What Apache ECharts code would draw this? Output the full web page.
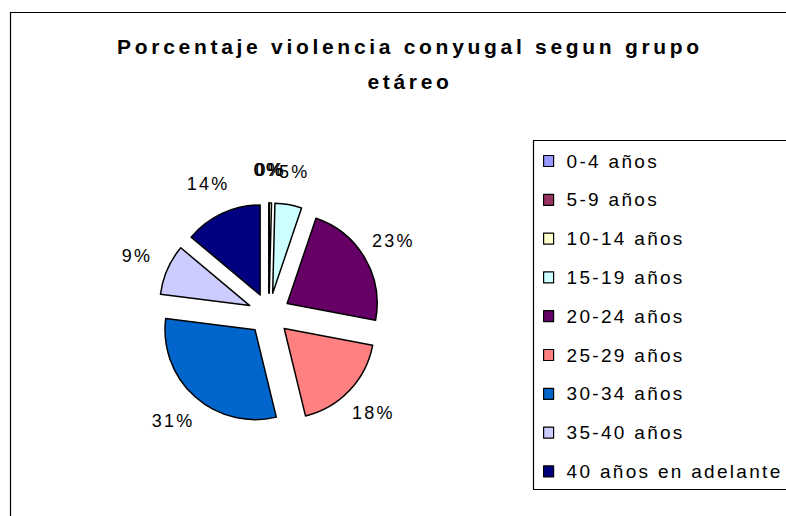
<!DOCTYPE html>
<html lang="es">
<head>
    <meta charset="UTF-8">
    <title>Porcentaje violencia conyugal</title>
    <style>
        html,body{
            padding: 0;
            margin: 0;
            width: 100%;
            height: 100%;
            background: #fff;
        }
        .chart{
            width: 786px;
            height: 516px;
        }
        /* el original (Excel) tiene las letras mas separadas */
        .chart svg text{
            letter-spacing: 2.3px;
        }
        .chart svg text[style*="bold"]{
            letter-spacing: 3.7px;
        }
    </style>
    <script src="https://cdn.jsdelivr.net/npm/echarts@6/dist/echarts.min.js"></script>
</head>
<body>
<div class="chart"></div>
<script>
    // grupos de edad y porcentaje de cada uno
    let grupos = ['0-4 años', '5-9 años', '10-14 años', '15-19 años', '20-24 años',
        '25-29 años', '30-34 años', '35-40 años', '40 años en adelante'];
    let valores = [0, 0, 0.4, 4.8, 22.8, 18.2, 30.8, 9.1, 13.9];
    let colores = ['#9999FF', '#993366', '#FFFFCC', '#CCFFFF', '#660066',
        '#FF8080', '#0066CC', '#CCCCFF', '#000080'];

    let myChart = echarts.init(document.querySelector('.chart'), null, {renderer: 'svg'});

    let data = grupos.map((g, i) => ({
        name: g,
        value: valores[i],
        selected: true,
        itemStyle: {color: colores[i]}
    }));

    let option = {
        backgroundColor: '#fff',
        animation: false,
        title: {
            text: 'Porcentaje violencia conyugal segun grupo\netáreo',
            left: 405,
            top: 24,
            textAlign: 'center',
            textStyle: {
                fontFamily: 'Liberation Sans',
                fontSize: 21,
                fontWeight: 'bold',
                lineHeight: 35,
                color: '#000'
            }
        },
        legend: {
            orient: 'vertical',
            left: 538,
            top: 146,
            itemWidth: 10,
            itemHeight: 11,
            itemGap: 18.8,
            icon: 'rect',
            selectedMode: false,
            data: grupos,
            itemStyle: {borderColor: '#000', borderWidth: 1.2},
            textStyle: {
                fontFamily: 'Liberation Sans',
                fontSize: 19,
                lineHeight: 20,
                color: '#000',
                padding: [0, 0, 0, 8]
            }
        },
        graphic: [
            {
                type: 'rect',
                shape: {x: 10.5, y: 12.5, width: 800, height: 520},
                style: {fill: null, stroke: '#000', lineWidth: 1.2},
                silent: true
            },
            {
                type: 'rect',
                shape: {x: 533.5, y: 140.5, width: 270, height: 349},
                style: {fill: null, stroke: '#000', lineWidth: 1.2},
                silent: true
            }
        ],
        series: [{
            type: 'pie',
            center: [269, 314],
            radius: 90,
            startAngle: 90,
            clockwise: true,
            selectedMode: 'multiple',
            selectedOffset: 21,
            avoidLabelOverlap: false,
            label: {
                show: true,
                position: 'outside',
                distanceToLabelLine: 0,
                fontFamily: 'Liberation Sans',
                fontSize: 18,
                color: '#000',
                formatter: p => Math.round(p.percent) + '%'
            },
            labelLine: {show: false, length: 33, length2: 0},
            labelLayout: {align: 'center', hideOverlap: false},
            itemStyle: {borderColor: '#000', borderWidth: 1.5},
            emphasis: {scale: false},
            data: data
        }]
    };

    myChart.setOption(option);
</script>
</body>
</html>
